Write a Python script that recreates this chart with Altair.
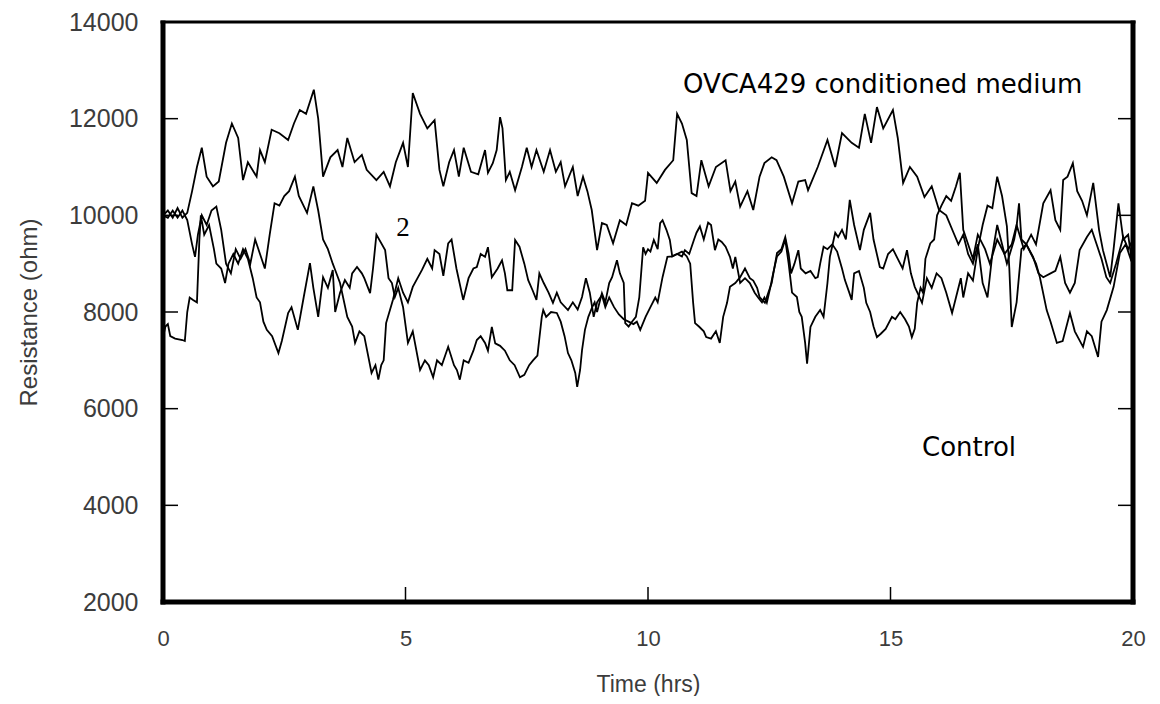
import altair as alt
import pandas as pd

# ---------------- data ----------------
# Series A (upper trace)
series_a = [(0,10000),(0.1,10100),(0.2,9950),(0.3,10150),(0.4,9950),(0.5,10050),(0.6,10500),(0.7,11000),(0.8,11400),(0.9,10800),
(1.03,10600),(1.15,10700),(1.3,11500),(1.42,11900),(1.55,11600),(1.65,10730),(1.75,11100),(1.93,10800),(2.0,11350),(2.1,11100),
(2.24,11770),(2.4,11700),(2.58,11560),(2.7,11900),(2.82,12180),(2.95,12100),(3.11,12600),(3.2,12000),(3.3,10800),(3.45,11200),
(3.6,11350),(3.7,11000),(3.8,11600),(3.95,11100),(4.1,11250),(4.2,10940),(4.4,10730),(4.55,10900),(4.68,10600),(4.8,11100),
(4.95,11500),(5.05,11000),(5.15,12530),(5.3,12100),(5.45,11800),(5.6,11970),(5.7,10940),(5.78,10600),(5.9,11100),(6.0,11350),
(6.1,10800),(6.2,11400),(6.35,10900),(6.5,10850),(6.64,11350),(6.7,10880),(6.8,11080),(6.88,11350),(6.95,12030),(7.0,11800),
(7.07,10730),(7.15,10900),(7.26,10520),(7.4,11000),(7.5,11400),(7.6,11000),(7.7,11350),(7.85,10900),(7.98,11350),(8.1,10900),
(8.2,11100),(8.29,10600),(8.45,11000),(8.55,10400),(8.66,10800),(8.75,10500),(8.84,10110),(8.95,9280),(9.05,9840),(9.15,9800),
(9.28,9420),(9.42,9900),(9.55,9800),(9.67,10250),(9.8,10200),(9.94,10300),(10.0,10880),(10.18,10670),(10.35,10940),(10.52,11140),
(10.6,12100),(10.7,11900),(10.8,11560),(10.9,10460),(11.0,10400),(11.1,11140),(11.25,10600),(11.4,11000),(11.6,11140),(11.7,10500),
(11.8,10700),(11.9,10180),(12.05,10500),(12.17,10110),(12.3,10800),(12.4,11080),(12.55,11200),(12.65,11140),(12.8,10800),(12.97,10250),
(13.1,10700),(13.24,10730),(13.3,10520),(13.5,11000),(13.7,11560),(13.86,11000),(14.0,11700),(14.2,11500),(14.35,11400),(14.47,12100),
(14.6,11500),(14.72,12240),(14.85,11800),(15.05,12180),(15.15,11600),(15.26,10670),(15.4,11000),(15.55,10800),(15.7,10380),(15.85,10600),
(16.0,10110),(16.15,10000),(16.3,9640),(16.4,9400),(16.5,9600),(16.6,9200),(16.7,9000),(16.8,9400),(16.9,8600),(17.0,8300),
(17.1,9200),(17.2,9800),(17.3,9400),(17.4,9000),(17.55,9500),(17.6,9770),(17.65,10250),(17.7,9500),(17.8,9400),(17.94,9140),
(18.05,8800),(18.15,8720),(18.3,8800),(18.4,8850),(18.5,9140),(18.6,8600),(18.7,8400),(18.8,8600),(18.9,9280),(19.05,9550),
(19.15,9700),(19.25,9400),(19.35,9100),(19.45,8720),(19.53,8600),(19.65,9000),(19.8,9550),(19.9,9300),(20,9500)]

# Series B (middle trace)
series_b = [(0,10000),(0.1,9950),(0.2,10100),(0.3,9950),(0.4,10100),(0.5,9900),(0.6,9400),(0.66,9140),(0.72,9600),(0.8,10000),
(0.9,9800),(1.0,10100),(1.1,10180),(1.2,9700),(1.3,9000),(1.4,8800),(1.5,9300),(1.6,9100),(1.7,9300),(1.8,9000),
(1.9,9500),(2.0,9200),(2.1,8900),(2.2,9600),(2.3,10250),(2.4,10200),(2.5,10400),(2.6,10500),(2.72,10800),(2.8,10400),
(2.97,10050),(3.1,10600),(3.2,10100),(3.3,9500),(3.4,9300),(3.5,9000),(3.55,8870),(3.65,8600),(3.8,7900),(3.9,7700),
(3.96,7360),(4.05,7600),(4.15,7500),(4.3,6740),(4.38,6900),(4.44,6600),(4.5,6900),(4.55,7000),(4.6,7770),(4.74,8250),
(4.85,8700),(4.95,8400),(5.05,8200),(5.15,8520),(5.34,8870),(5.45,9100),(5.55,8900),(5.6,9280),(5.7,9200),(5.78,8750),
(5.88,9420),(5.95,9500),(6.05,8900),(6.19,8250),(6.3,8700),(6.4,8900),(6.47,8930),(6.55,9200),(6.64,9140),(6.7,9340),
(6.78,8720),(6.9,8900),(6.99,9070),(7.05,8800),(7.1,8450),(7.2,8450),(7.26,9490),(7.35,9350),(7.45,9000),(7.53,8660),
(7.62,8450),(7.7,8250),(7.76,8800),(7.85,8600),(7.95,8400),(8.04,8190),(8.12,8400),(8.2,8200),(8.35,8040),(8.45,8200),
(8.55,8050),(8.64,8310),(8.72,8700),(8.8,8400),(8.88,7900),(8.95,8200),(9.05,8350),(9.12,8100),(9.2,8300),(9.3,8100),
(9.4,7950),(9.5,7850),(9.6,7800),(9.7,7750),(9.77,7800),(9.84,7630),(9.95,7900),(10.05,8100),(10.15,8300),(10.2,8200),
(10.3,8720),(10.4,9140),(10.5,9150),(10.6,9200),(10.7,9150),(10.76,9280),(10.85,9200),(10.95,9500),(11.0,9640),(11.07,9770),
(11.15,9500),(11.24,9850),(11.3,9800),(11.38,9280),(11.45,9500),(11.52,9450),(11.6,9350),(11.69,9140),(11.75,8900),(11.8,9140),
(11.9,8600),(12.0,8700),(12.05,8650),(12.1,8600),(12.2,8400),(12.27,8300),(12.35,8200),(12.4,8300),(12.45,8190),(12.52,8500),
(12.58,8800),(12.66,9150),(12.75,9250),(12.83,9500),(12.9,9000),(12.97,8400),(13.07,8310),(13.12,8000),(13.17,7900),(13.24,7360),
(13.28,6930),(13.35,7690),(13.45,7900),(13.55,8040),(13.62,7900),(13.7,8600),(13.75,9140),(13.86,9640),(13.92,9550),(14.0,9700),
(14.08,9500),(14.16,10320),(14.25,9800),(14.37,9280),(14.45,9700),(14.58,10050),(14.65,9500),(14.78,8930),(14.85,8900),(14.95,9200),
(15.05,9300),(15.15,9100),(15.25,8900),(15.34,9280),(15.42,8800),(15.5,8520),(15.6,8300),(15.65,8190),(15.75,8700),(15.85,8500),
(15.95,8800),(16.05,8700),(16.15,8400),(16.27,7980),(16.35,8300),(16.45,8700),(16.5,8300),(16.6,8800),(16.7,8650),(16.8,9300),
(16.9,9800),(17.0,10200),(17.1,10150),(17.2,10800),(17.3,10400),(17.4,9770),(17.45,8900),(17.5,7690),(17.6,8200),(17.7,9300),
(17.8,9400),(17.9,9200),(18.0,9000),(18.08,8720),(18.22,8040),(18.3,7800),(18.43,7360),(18.55,7400),(18.7,7980),(18.8,7600),
(18.97,7280),(19.05,7600),(19.15,7500),(19.28,7070),(19.35,7800),(19.46,8040),(19.6,8520),(19.73,9220),(19.85,9400),(19.95,9100),
(20,9300)]

# Series C (lower trace)
series_c = [(0,7480),(0.05,7700),(0.1,7750),(0.15,7500),(0.25,7450),(0.4,7420),(0.45,7400),(0.5,8000),(0.55,8300),(0.62,8250),
(0.7,8200),(0.75,9500),(0.78,10000),(0.85,9600),(0.95,9800),(1.05,9300),(1.1,9000),(1.2,8900),(1.28,8600),(1.35,9000),
(1.45,9200),(1.55,9000),(1.65,9300),(1.75,9100),(1.85,8700),(1.93,8300),(2.0,8200),(2.07,7800),(2.14,7630),(2.25,7500),
(2.38,7150),(2.45,7400),(2.58,7980),(2.65,8100),(2.78,7630),(2.9,8300),(3.03,9010),(3.1,8500),(3.2,7900),(3.3,8720),
(3.4,8500),(3.5,8870),(3.55,8000),(3.65,8400),(3.75,8660),(3.85,8500),(3.9,8800),(4.0,8930),(4.1,8800),(4.15,8700),
(4.27,8390),(4.33,8900),(4.4,9600),(4.58,9280),(4.65,8700),(4.72,8600),(4.78,8310),(4.85,8500),(4.95,8100),(5.05,7360),
(5.15,7600),(5.3,6800),(5.4,7000),(5.48,6900),(5.57,6650),(5.65,7000),(5.75,6900),(5.88,7280),(6.0,6900),(6.06,6800),
(6.12,6600),(6.2,7000),(6.3,6950),(6.4,7200),(6.47,7420),(6.55,7500),(6.64,7360),(6.7,7200),(6.78,7690),(6.85,7350),
(6.95,7300),(7.05,7200),(7.15,7000),(7.25,6900),(7.36,6650),(7.45,6700),(7.55,6900),(7.63,7000),(7.72,7100),(7.81,7900),
(7.84,8040),(7.9,7900),(8.0,8000),(8.12,7980),(8.2,7800),(8.28,7500),(8.35,7150),(8.42,7000),(8.5,6740),(8.54,6450),
(8.6,6800),(8.64,7210),(8.7,7630),(8.77,7900),(8.85,8100),(8.9,8200),(8.95,8000),(9.05,8390),(9.12,8200),(9.2,8600),
(9.26,8720),(9.32,8930),(9.36,9070),(9.42,8800),(9.5,8600),(9.53,7770),(9.6,7700),(9.67,7800),(9.75,7900),(9.82,8300),
(9.9,9340),(9.95,9200),(10.0,9300),(10.05,9250),(10.12,9490),(10.2,9300),(10.25,9840),(10.3,9900),(10.38,9700),(10.45,9490),
(10.5,9150),(10.6,9200),(10.7,9250),(10.8,9150),(10.87,9000),(10.93,8200),(10.97,7770),(11.05,7700),(11.15,7600),(11.2,7480),
(11.3,7450),(11.4,7600),(11.48,7360),(11.55,7900),(11.63,8190),(11.69,8520),(11.8,8600),(11.9,8720),(12.0,8900),(12.1,8700),
(12.17,8650),(12.25,8500),(12.3,8310),(12.41,8190),(12.48,8400),(12.55,8600),(12.66,9220),(12.75,9300),(12.83,9550),(12.9,9200),
(12.95,8800),(13.02,9000),(13.1,9280),(13.15,8900),(13.25,8800),(13.35,8850),(13.45,8700),(13.5,8720),(13.55,9000),(13.62,9350),
(13.7,9300),(13.8,9400),(13.9,9250),(14.0,8900),(14.06,8660),(14.15,8400),(14.2,8250),(14.25,8800),(14.35,8850),(14.45,8500),
(14.5,8190),(14.58,8000),(14.65,7700),(14.72,7480),(14.8,7550),(14.9,7650),(15.03,7900),(15.1,7850),(15.2,8000),(15.3,7850),
(15.38,7700),(15.44,7480),(15.5,7650),(15.55,8190),(15.62,8500),(15.67,8400),(15.72,9100),(15.82,9420),(15.9,9500),(15.96,10000),
(16.05,10200),(16.15,10400),(16.25,10300),(16.35,10600),(16.43,10880),(16.5,9700),(16.6,9400),(16.7,9100),(16.8,9600),(16.95,9300),
(17.05,9000),(17.2,9500),(17.35,9200),(17.5,9400),(17.6,9800),(17.75,9300),(17.9,9600),(18.0,9400),(18.15,10250),(18.3,10520),
(18.4,9900),(18.5,9700),(18.56,10730),(18.65,10800),(18.76,11080),(18.85,10500),(18.95,10300),(19.05,10000),(19.18,10670),(19.3,9700),
(19.38,9280),(19.53,8720),(19.6,9300),(19.7,10250),(19.8,9500),(19.9,9600),(20,8870)]

x_ticks = [0, 5, 10, 15, 20]
y_ticks = [2000, 4000, 6000, 8000, 10000, 12000, 14000]
inner_x_ticks = [5, 10, 15]
inner_y_ticks = [4000, 6000, 8000, 10000, 12000]

ann_main = ["OVCA429 conditioned medium"]
ann_main_t = [10.72]
ann_main_v = [12700]
ann_ctrl = ["Control"]
ann_ctrl_t = [15.65]
ann_ctrl_v = [5190]
ann_two = ["2"]
ann_two_t = [4.95]
ann_two_v = [9740]

# ---------------- build tables ----------------
rows = []
for name, ser in (("A", series_a), ("B", series_b), ("C", series_c)):
    for t, v in ser:
        rows.append({"t": t, "v": v, "series": name})
df = pd.DataFrame(rows)

W, H = 970, 580
xs = alt.Scale(domain=[0, 20], nice=False, zero=False)
ys = alt.Scale(domain=[2000, 14000], nice=False, zero=False)
txt_col = "#3c3c3c"

x_axis = alt.Axis(
    values=x_ticks, format="d", title="Time (hrs)", domain=False, ticks=False, grid=False,
    labelPadding=26, labelFlush=False, labelFontSize=22, labelFont="Liberation Sans",
    labelColor=txt_col, titleFontSize=23, titleFont="Liberation Sans", titleFontWeight="normal",
    titleColor=txt_col, titleX=485, titleY=82, titleBaseline="middle", titleAlign="center")
y_axis = alt.Axis(
    values=y_ticks, format="d", title="Resistance (ohm)", domain=False, ticks=False, grid=False,
    labelPadding=25, labelOverlap=False, labelFontSize=25, labelFont="Liberation Sans",
    labelColor=txt_col, titleFontSize=24, titleFont="Liberation Sans", titleFontWeight="normal",
    titleColor=txt_col, titleX=-134, titleY=290, titleAngle=270, titleBaseline="middle",
    titleAlign="center")

def X():
    return alt.X("t:Q", scale=xs, axis=x_axis, title="Time (hrs)")

def Y():
    return alt.Y("v:Q", scale=ys, axis=y_axis, title="Resistance (ohm)")

lines = alt.Chart(df).mark_line(color="black", strokeWidth=1.8).encode(
    x=X(), y=Y(), detail="series:N")

ydf = pd.DataFrame({"v": inner_y_ticks})
xdf = pd.DataFrame({"t": inner_x_ticks})
one = pd.DataFrame({"k": [0]})

left_ticks = alt.Chart(ydf).mark_rule(color="black", strokeWidth=1.5).encode(
    y=Y(), x=alt.value(0), x2=alt.value(15))
right_ticks = alt.Chart(ydf).mark_rule(color="black", strokeWidth=1.5).encode(
    y=Y(), x=alt.value(W - 15), x2=alt.value(W))
bottom_ticks = alt.Chart(xdf).mark_rule(color="black", strokeWidth=1.5).encode(
    x=X(), y=alt.value(H - 15), y2=alt.value(H))

frame_left = alt.Chart(one).mark_rule(color="black", strokeWidth=5).encode(
    x=alt.value(0), y=alt.value(-1.5), y2=alt.value(H + 2.5))
frame_right = alt.Chart(one).mark_rule(color="black", strokeWidth=5).encode(
    x=alt.value(W), y=alt.value(-1.5), y2=alt.value(H + 2.5))
frame_bottom = alt.Chart(one).mark_rule(color="black", strokeWidth=5).encode(
    y=alt.value(H), x=alt.value(-2.5), x2=alt.value(W + 2.5))
frame_top = alt.Chart(one).mark_rule(color="black", strokeWidth=3).encode(
    y=alt.value(0), x=alt.value(-2.5), x2=alt.value(W + 2.5))

t_main = alt.Chart(pd.DataFrame({"t": ann_main_t, "v": ann_main_v, "s": ann_main})).mark_text(
    align="left", baseline="middle", font="DejaVu Sans", fontSize=26, color="black").encode(
    x=X(), y=Y(), text="s:N")
t_ctrl = alt.Chart(pd.DataFrame({"t": ann_ctrl_t, "v": ann_ctrl_v, "s": ann_ctrl})).mark_text(
    align="left", baseline="middle", font="DejaVu Sans", fontSize=26, color="black").encode(
    x=X(), y=Y(), text="s:N")
t_two = alt.Chart(pd.DataFrame({"t": ann_two_t, "v": ann_two_v, "s": ann_two})).mark_text(
    align="center", baseline="middle", font="Liberation Serif", fontSize=27, color="black").encode(
    x=X(), y=Y(), text="s:N")

chart = alt.layer(
    lines, left_ticks, right_ticks, bottom_ticks,
    frame_left, frame_right, frame_bottom, frame_top,
    t_main, t_ctrl, t_two,
).properties(
    width=W, height=H,
    background="white",
    autosize=alt.AutoSizeParams(type="none"),
    padding={"left": 155, "top": 14, "right": 19, "bottom": 94},
).configure_view(stroke=None)

chart.save("out.html", embed_options={"renderer": "svg", "actions": False})
